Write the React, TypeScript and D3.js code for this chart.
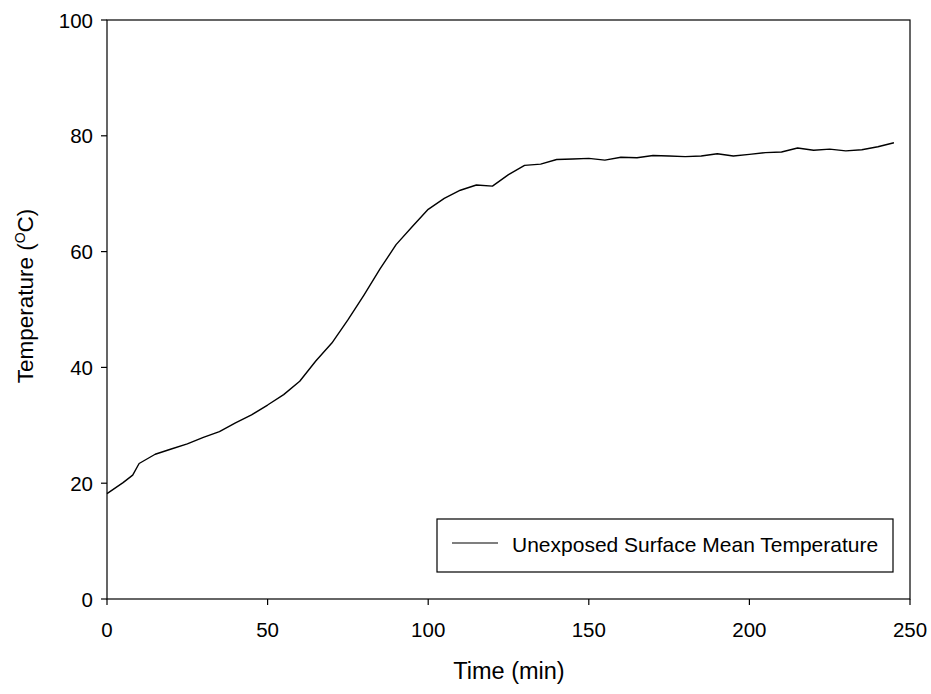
import React from "react";
import * as d3 from "d3";

const timeMin = [0,5,8,10,15,20,25,30,35,40,45,50,55,60,65,70,75,80,85,90,95,100,105,110,115,120,125,130,135,140,145,150,155,160,165,170,175,180,185,190,195,200,205,210,215,220,225,230,235,240,245];
const tempC = [18.2,20.1,21.4,23.4,25,25.9,26.8,27.9,28.9,30.4,31.8,33.5,35.3,37.6,41.1,44.2,48.2,52.5,57,61.2,64.3,67.3,69.2,70.6,71.5,71.3,73.3,74.9,75.1,75.9,76,76.1,75.8,76.3,76.2,76.6,76.5,76.4,76.5,76.9,76.5,76.8,77.1,77.2,77.9,77.5,77.7,77.4,77.6,78.1,78.8];
const xTicks = [0,50,100,150,200,250];
const yTicks = [0,20,40,60,80,100];
const seriesName = "Unexposed Surface Mean Temperature";

export default function App() {
  const W = 931, H = 694;
  const left = 107, right = 910, top = 20, bottom = 599;
  const x = d3.scaleLinear().domain([0, 250]).range([left, right]);
  const y = d3.scaleLinear().domain([0, 100]).range([bottom, top]);
  const pts = timeMin.map((t, i) => [t, tempC[i]] as [number, number]);
  const line = d3.line<[number, number]>().x(d => x(d[0])).y(d => y(d[1]));
  const font = "Arial, 'Liberation Sans', sans-serif";
  return (
    <svg width={W} height={H} style={{ position: "absolute", left: 0, top: 0, background: "#fff" }} fontFamily={font}>
      <rect x={0} y={0} width={W} height={H} fill="#fff" />
      <rect x={left} y={top} width={right - left} height={bottom - top} fill="none" stroke="#000" strokeWidth={1.2} />
      {xTicks.map(t => (
        <g key={"x" + t}>
          <line x1={x(t)} x2={x(t)} y1={bottom} y2={bottom + 6} stroke="#000" strokeWidth={1.2} />
          <text x={x(t)} y={637} textAnchor="middle" fontSize={20.5} fill="#000">{t}</text>
        </g>
      ))}
      {yTicks.map(v => (
        <g key={"y" + v}>
          <line x1={left - 6} x2={left} y1={y(v)} y2={y(v)} stroke="#000" strokeWidth={1.2} />
          <text x={93} y={y(v) + 7.5} textAnchor="end" fontSize={20.5} fill="#000">{v}</text>
        </g>
      ))}
      <path d={line(pts) || ""} fill="none" stroke="#000" strokeWidth={1.4} strokeLinejoin="round" />
      <text x={509} y={679} textAnchor="middle" fontSize={23.5} fill="#000">Time (min)</text>
      <text transform={`translate(33, 296) rotate(-90)`} textAnchor="middle" fontSize={22.5} fill="#000">
        Temperature (<tspan baselineShift="super" fontSize={14}>O</tspan>C)
      </text>
      <rect x={437} y={519} width={456} height={53} fill="#fff" stroke="#000" strokeWidth={1.2} />
      <line x1={452} x2={498} y1={543} y2={543} stroke="#000" strokeWidth={1.2} />
      <text x={512} y={552} fontSize={21} fill="#000">{seriesName}</text>
    </svg>
  );
}
